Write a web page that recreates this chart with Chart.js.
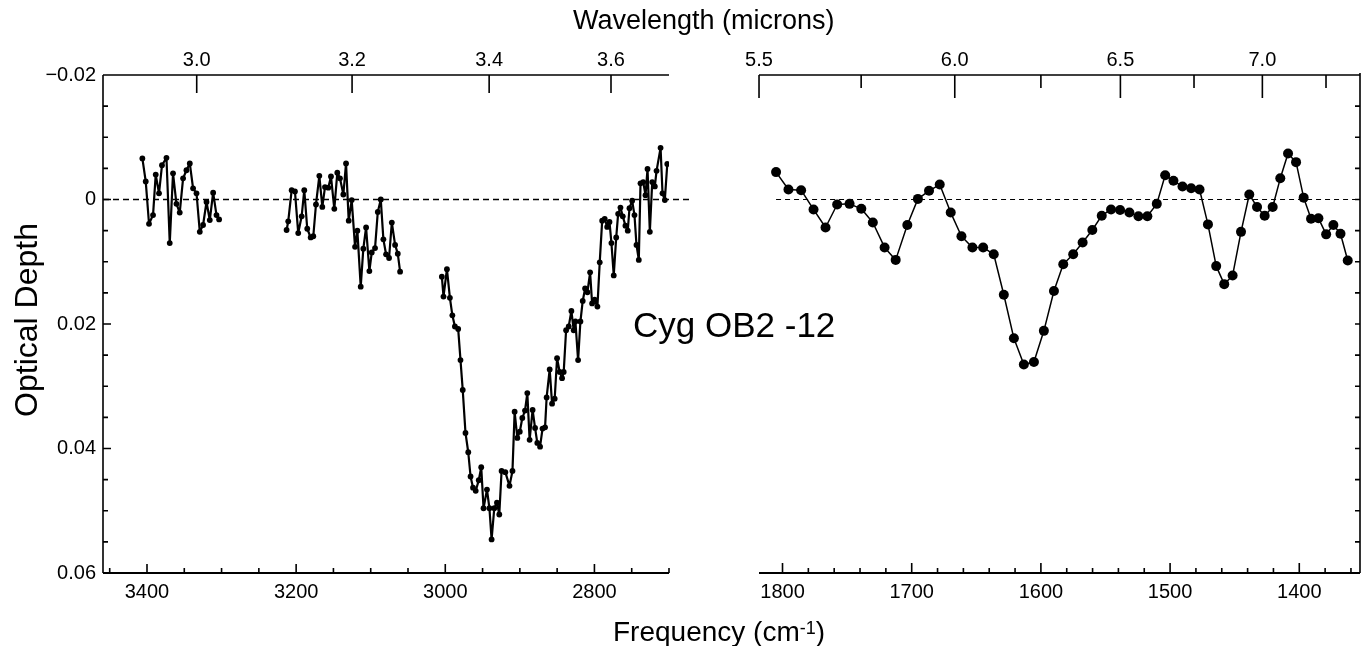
<!DOCTYPE html>
<html>
<head>
<meta charset="utf-8">
<script src="https://cdn.jsdelivr.net/npm/chart.js@4.4.1/dist/chart.umd.min.js"></script>
<style>
html,body{margin:0;padding:0;background:#fff;width:1366px;height:646px;overflow:hidden;font-family:"Liberation Sans",Arial,Helvetica,sans-serif;}
#left{position:absolute;left:0;top:0;width:700px;height:646px;}
#right{position:absolute;left:700px;top:0;width:666px;height:646px;}
.t{position:absolute;color:#000;white-space:nowrap;}
#wl{left:573px;top:6px;font-size:27px;line-height:28px;}
#fq{left:613px;top:617px;font-size:28px;line-height:29px;}
#fq sup{font-size:18px;vertical-align:top;position:relative;top:-3px;}
#od{left:-74px;top:304px;width:200px;text-align:center;font-size:32px;line-height:32px;transform:rotate(-90deg);}
#lbl{left:633px;top:306px;font-size:35px;line-height:38px;}
</style>
</head>
<body>
<div id="left"><canvas id="c1" width="700" height="646"></canvas></div>
<div id="right"><canvas id="c2" width="666" height="646"></canvas></div>
<div class="t" id="wl">Wavelength (microns)</div>
<div class="t" id="fq">Frequency (cm<sup>-1</sup>)</div>
<div class="t" id="od">Optical Depth</div>
<div class="t" id="lbl">Cyg OB2 -12</div>
<script>
// ---------- DATA ----------
const leftSeg1Freq = [3406.2, 3401.7, 3397.3, 3391.9, 3388.3, 3383.9, 3379.9, 3373.9, 3369.5, 3365.1, 3360.5, 3356.1, 3351.6, 3347.1, 3342.6, 3338.2, 3333.6, 3329.2, 3324.8, 3320.2, 3315.8, 3311.3, 3306.8, 3303.3];
const leftSeg1Depth = [-0.0066, -0.0029, 0.0039, 0.0025, -0.0040, -0.0010, -0.0055, -0.0067, 0.0070, -0.0042, 0.0007, 0.0021, -0.0034, -0.0047, -0.0058, -0.0018, -0.0010, 0.0052, 0.0041, 0.0004, 0.0033, -0.0011, 0.0025, 0.0032];

const leftSeg2Freq = [3212.8, 3210.6, 3206.0, 3201.6, 3197.2, 3192.6, 3189.1, 3185.1, 3180.5, 3177.0, 3173.4, 3168.9, 3164.9, 3161.3, 3156.9, 3153.3, 3148.8, 3144.8, 3141.2, 3136.7, 3133.1, 3129.5, 3125.5, 3121.0, 3117.9, 3113.4, 3109.9, 3106.2, 3101.8, 3098.6, 3094.2, 3090.5, 3086.5, 3083.0, 3079.4, 3075.4, 3071.7, 3067.3, 3063.7, 3060.6];
const leftSeg2Depth = [0.0049, 0.0035, -0.0015, -0.0013, 0.0054, 0.0027, -0.0015, 0.0047, 0.0061, 0.0059, 0.0008, -0.0038, 0.0012, -0.0020, -0.0019, -0.0037, 0.0015, -0.0043, -0.0034, -0.0008, -0.0058, 0.0034, 0.0001, 0.0076, 0.0050, 0.0140, 0.0079, 0.0045, 0.0115, 0.0085, 0.0078, 0.0020, 0.0000, 0.0064, 0.0088, 0.0094, 0.0037, 0.0073, 0.0087, 0.0116];

const leftSeg3Freq = [3004.6, 3002.4, 2997.8, 2993.8, 2990.5, 2987.1, 2982.7, 2979.6, 2976.6, 2972.9,
  2969.2, 2966.1, 2962.8, 2959.2, 2955.1, 2951.8, 2948.7, 2944.1, 2940.8, 2937.9,
  2934.3, 2930.7, 2927.6, 2924.5, 2919.5, 2913.9, 2909.9, 2907.0, 2903.4, 2900.1,
  2896.7, 2893.1, 2890.0, 2886.9, 2882.9, 2879.6, 2876.6, 2872.9, 2869.6, 2866.2,
  2864.1, 2860.0, 2856.8, 2853.3, 2850.1, 2846.6, 2843.4, 2841.2, 2838.0, 2834.5,
  2830.9, 2827.8, 2825.5, 2821.9, 2818.8, 2815.7, 2812.5, 2809.4, 2805.8, 2803.1,
  2799.7, 2796.0, 2792.9, 2789.6, 2786.2, 2782.9, 2779.8, 2777.2, 2774.1, 2770.8,
  2768.2, 2765.1, 2762.0, 2758.4, 2755.3, 2753.0, 2749.4, 2746.3, 2743.6, 2740.5,
  2738.2, 2734.6, 2731.5, 2728.8, 2725.7, 2722.5, 2719.0, 2716.7, 2711.3, 2708.7,
  2705.6, 2702.3];
const leftSeg3Depth = [0.0124, 0.0156, 0.0112, 0.0158, 0.0186, 0.0204, 0.0208, 0.0258, 0.0306, 0.0375,
  0.0406, 0.0445, 0.0463, 0.0468, 0.0451, 0.0430, 0.0496, 0.0466, 0.0496, 0.0546,
  0.0496, 0.0487, 0.0506, 0.0436, 0.0438, 0.0460, 0.0436, 0.0341, 0.0383, 0.0373,
  0.0351, 0.0339, 0.0311, 0.0386, 0.0338, 0.0367, 0.0391, 0.0397, 0.0368, 0.0366,
  0.0318, 0.0273, 0.0328, 0.0320, 0.0255, 0.0277, 0.0287, 0.0277, 0.0210, 0.0204,
  0.0179, 0.0210, 0.0196, 0.0258, 0.0196, 0.0163, 0.0143, 0.0149, 0.0117, 0.0167,
  0.0161, 0.0172, 0.0101, 0.0034, 0.0031, 0.0044, 0.0036, 0.0070, 0.0122, 0.0061,
  0.0023, 0.0013, 0.0027, 0.0042, 0.0050, 0.0014, 0.0002, 0.0025, 0.0073, 0.0097,
  -0.0026, -0.0028, -0.0007, -0.0049, 0.0052, -0.0028, -0.0021, -0.0046, -0.0083, -0.0010,
  0.0001, -0.0057];

const rightFreq = [1805.0, 1795.4, 1785.6, 1776.0, 1766.7, 1757.7, 1748.1, 1739.0, 1730.1, 1721.0,
  1712.4, 1703.4, 1695.2, 1686.6, 1678.3, 1669.8, 1661.5, 1653.0, 1644.7, 1636.5,
  1628.7, 1620.9, 1613.2, 1605.4, 1597.7, 1589.9, 1582.7, 1575.0, 1567.7, 1560.2,
  1552.9, 1545.7, 1538.7, 1531.5, 1524.5, 1517.6, 1510.3, 1503.8, 1497.4, 1490.4,
  1483.7, 1477.2, 1470.7, 1464.3, 1458.1, 1451.6, 1445.1, 1438.7, 1432.7, 1426.8,
  1420.6, 1414.7, 1408.7, 1402.5, 1396.6, 1390.9, 1385.2, 1379.2, 1373.6, 1368.1,
  1362.5];
const rightDepth = [-0.0044, -0.0016, -0.0015, 0.0016, 0.0045, 0.0008, 0.0007, 0.0015, 0.0037, 0.0077,
  0.0097, 0.0041, -0.0001, -0.0014, -0.0024, 0.0021, 0.0059, 0.0077, 0.0077, 0.0088,
  0.0153, 0.0223, 0.0265, 0.0261, 0.0211, 0.0147, 0.0104, 0.0088, 0.0069, 0.0049,
  0.0026, 0.0016, 0.0017, 0.0021, 0.0027, 0.0027, 0.0007, -0.0039, -0.0030, -0.0021,
  -0.0018, -0.0016, 0.0040, 0.0107, 0.0136, 0.0122, 0.0052, -0.0008, 0.0012, 0.0026,
  0.0012, -0.0034, -0.0074, -0.0060, -0.0003, 0.0031, 0.0030, 0.0056, 0.0041, 0.0055,
  0.0098];

// tick labels
const leftFreqTickLabels = [3400, 3200, 3000, 2800];
const rightFreqTickLabels = [1800, 1700, 1600, 1500, 1400];
const leftWavelengthTicks = [3.0, 3.2, 3.4, 3.6];
const rightWavelengthTicks = [5.5, 6.0, 6.5, 7.0];
const rightWavelengthMinorTicks = [5.75, 6.25, 6.75, 7.25];
const depthTickLabels = [-0.02, 0, 0.02, 0.04, 0.06];

// ---------- CHARTS ----------
const FONT = '"Liberation Sans", Arial, Helvetica, sans-serif';
const tickFont = {family: FONT, size: 20};
Chart.defaults.font.family = FONT;

const pts = (xs, ys) => xs.map((x, i) => ({x: x, y: ys[i]}));
const isDepthLabel = v => depthTickLabels.some(d => Math.abs(d - v) < 1e-9);
const fmtDepth = v => Math.abs(v) < 1e-9 ? '0' : (v < 0 ? '\u2212' : '') + Math.abs(v).toFixed(2);
const near = (arr, v, eps) => arr.some(a => Math.abs(a - v) < eps);

function depthTicks(scale) {
  scale.ticks = [];
  for (let i = -4; i <= 12; i++) scale.ticks.push({value: i * 0.005});
}

const lineStyleLeft = {borderColor: '#000', backgroundColor: '#000', borderWidth: 2.2, borderJoinStyle: 'round', borderCapStyle: 'round',
  pointRadius: 2.9, pointHoverRadius: 2.9, pointBorderWidth: 0, tension: 0, fill: false};

const leftFrame = {
  id: 'leftFrame',
  beforeDatasetsDraw(chart) {
    const {ctx, chartArea: a, scales} = chart;
    const y0 = scales.y.getPixelForValue(0);
    ctx.save();
    ctx.strokeStyle = '#000'; ctx.lineWidth = 1.3; ctx.setLineDash([6, 4]);
    ctx.beginPath(); ctx.moveTo(a.left, y0); ctx.lineTo(a.right + 24, y0); ctx.stroke();
    ctx.restore();
  },
  afterDraw(chart) {
    const {ctx, chartArea: a, scales} = chart;
    ctx.save();
    ctx.strokeStyle = '#000'; ctx.lineWidth = 1.6; ctx.setLineDash([]);
    ctx.beginPath();
    ctx.moveTo(a.left, a.top); ctx.lineTo(a.right, a.top);
    ctx.moveTo(a.left, a.top); ctx.lineTo(a.left, a.bottom);
    scales.x.ticks.forEach(t => {
      const p = scales.x.getPixelForValue(t.value);
      const L = leftFreqTickLabels.includes(t.value) ? 9 : 5;
      ctx.moveTo(p, a.bottom); ctx.lineTo(p, a.bottom - L);
    });
    scales.x2.ticks.forEach(t => {
      const p = scales.x2.getPixelForValue(t.value);
      ctx.moveTo(p, a.top); ctx.lineTo(p, a.top + 18);
    });
    scales.y.ticks.forEach(t => {
      const p = scales.y.getPixelForValue(t.value);
      const L = isDepthLabel(t.value) ? 8 : 5;
      ctx.moveTo(a.left, p); ctx.lineTo(a.left + L, p);
    });
    ctx.stroke();
    ctx.lineWidth = 2.2;
    ctx.beginPath(); ctx.moveTo(a.left, a.bottom); ctx.lineTo(a.right, a.bottom); ctx.stroke();
    ctx.restore();
  }
};

new Chart(document.getElementById('c1'), {
  type: 'line',
  data: {
    datasets: [
      Object.assign({data: pts(leftSeg1Freq, leftSeg1Depth)}, lineStyleLeft),
      Object.assign({data: pts(leftSeg2Freq, leftSeg2Depth)}, lineStyleLeft),
      Object.assign({data: pts(leftSeg3Freq, leftSeg3Depth)}, lineStyleLeft)
    ]
  },
  options: {
    responsive: false, animation: false, devicePixelRatio: 1,
    layout: {padding: {left: 0, right: 31, top: 0, bottom: 0}},
    plugins: {legend: {display: false}, tooltip: {enabled: false}},
    scales: {
      x: {
        type: 'linear', position: 'bottom', min: 2700, max: 3459, reverse: true,
        grid: {display: false, drawTicks: false}, border: {display: false},
        afterBuildTicks: s => { s.ticks = []; for (let v = 2700; v <= 3450; v += 50) s.ticks.push({value: v}); },
        ticks: {autoSkip: false, maxRotation: 0, padding: 7, color: '#000', font: tickFont,
          callback: v => leftFreqTickLabels.includes(v) ? String(v) : ''},
        afterFit: s => { s.height = 73; }
      },
      x2: {
        type: 'linear', position: 'top', min: 2700, max: 3459, reverse: true,
        grid: {display: false, drawTicks: false}, border: {display: false},
        afterBuildTicks: s => { s.ticks = leftWavelengthTicks.map(w => ({value: 1e4 / w})); },
        ticks: {autoSkip: false, maxRotation: 0, padding: 3, color: '#000', font: tickFont,
          callback: v => (1e4 / v).toFixed(1)},
        afterFit: s => { s.height = 75; }
      },
      y: {
        type: 'linear', position: 'left', min: -0.02, max: 0.06, reverse: true,
        grid: {display: false, drawTicks: false}, border: {display: false},
        afterBuildTicks: depthTicks,
        ticks: {autoSkip: false, padding: 7, color: '#000', font: tickFont,
          callback: v => isDepthLabel(v) ? fmtDepth(v) : ''},
        afterFit: s => { s.width = 103; }
      }
    }
  },
  plugins: [leftFrame]
});

const rightFrame = {
  id: 'rightFrame',
  beforeDatasetsDraw(chart) {
    const {ctx, chartArea: a, scales} = chart;
    const y0 = scales.y.getPixelForValue(0);
    const x0 = scales.x.getPixelForValue(rightFreq[0]);
    ctx.save();
    ctx.strokeStyle = '#000'; ctx.lineWidth = 1.2; ctx.setLineDash([5, 4]);
    ctx.beginPath(); ctx.moveTo(x0, y0); ctx.lineTo(a.right, y0); ctx.stroke();
    ctx.restore();
  },
  afterDraw(chart) {
    const {ctx, chartArea: a, scales} = chart;
    ctx.save();
    ctx.strokeStyle = '#000'; ctx.lineWidth = 1.6; ctx.setLineDash([]);
    ctx.beginPath();
    ctx.moveTo(a.left, a.top); ctx.lineTo(a.right, a.top);
    ctx.moveTo(a.right, a.top - 2); ctx.lineTo(a.right, a.bottom);
    scales.x.ticks.forEach(t => {
      const p = scales.x.getPixelForValue(t.value);
      const L = rightFreqTickLabels.includes(t.value) ? 10 : 5;
      ctx.moveTo(p, a.bottom); ctx.lineTo(p, a.bottom - L);
    });
    scales.x2.ticks.forEach(t => {
      const p = scales.x2.getPixelForValue(t.value);
      const L = near(rightWavelengthTicks, 1e4 / t.value, 0.01) ? 23 : 13;
      ctx.moveTo(p, a.top); ctx.lineTo(p, a.top + L);
    });
    for (let i = -4; i <= 12; i++) {
      const p = scales.y.getPixelForValue(i * 0.005);
      ctx.moveTo(a.right, p); ctx.lineTo(a.right - 5, p);
    }
    ctx.stroke();
    ctx.lineWidth = 2.2;
    ctx.beginPath(); ctx.moveTo(a.left, a.bottom); ctx.lineTo(a.right, a.bottom); ctx.stroke();
    ctx.restore();
  }
};

new Chart(document.getElementById('c2'), {
  type: 'line',
  data: {
    datasets: [{
      data: pts(rightFreq, rightDepth),
      borderColor: '#000', backgroundColor: '#000', borderWidth: 1.5, borderJoinStyle: 'round',
      pointRadius: 5, pointHoverRadius: 5, pointBorderWidth: 0, tension: 0, fill: false
    }]
  },
  options: {
    responsive: false, animation: false, devicePixelRatio: 1,
    layout: {padding: {left: 59, right: 6, top: 0, bottom: 0}},
    plugins: {legend: {display: false}, tooltip: {enabled: false}},
    scales: {
      x: {
        type: 'linear', position: 'bottom', min: 1353, max: 1818.2, reverse: true,
        grid: {display: false, drawTicks: false}, border: {display: false},
        afterBuildTicks: s => { s.ticks = []; for (let v = 1360; v <= 1800; v += 20) s.ticks.push({value: v}); },
        ticks: {autoSkip: false, maxRotation: 0, padding: 7, color: '#000', font: tickFont,
          callback: v => rightFreqTickLabels.includes(v) ? String(v) : ''},
        afterFit: s => { s.height = 73; }
      },
      x2: {
        type: 'linear', position: 'top', min: 1353, max: 1818.2, reverse: true,
        grid: {display: false, drawTicks: false}, border: {display: false},
        afterBuildTicks: s => { s.ticks = rightWavelengthTicks.concat(rightWavelengthMinorTicks).map(w => ({value: 1e4 / w})); },
        ticks: {autoSkip: false, maxRotation: 0, padding: 3, color: '#000', font: tickFont,
          callback: v => near(rightWavelengthTicks, 1e4 / v, 0.01) ? (1e4 / v).toFixed(1) : ''},
        afterFit: s => { s.height = 75; }
      },
      y: {
        type: 'linear', display: false, min: -0.02, max: 0.06, reverse: true
      }
    }
  },
  plugins: [rightFrame]
});
</script>
</body>
</html>
